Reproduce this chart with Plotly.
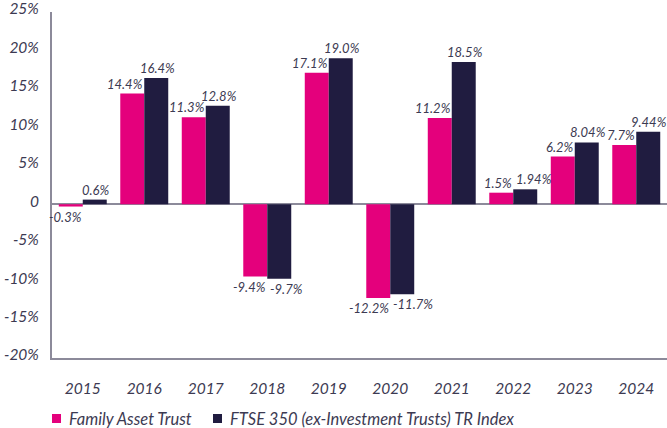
import plotly.graph_objects as go

years = ["2015", "2016", "2017", "2018", "2019", "2020", "2021", "2022", "2023", "2024"]
fat_values = [-0.3, 14.4, 11.3, -9.4, 17.1, -12.2, 11.2, 1.5, 6.2, 7.7]
fat_labels = ["-0.3%", "14.4%", "11.3%", "-9.4%", "17.1%", "-12.2%", "11.2%", "1.5%", "6.2%", "7.7%"]
ftse_values = [0.6, 16.4, 12.8, -9.7, 19.0, -11.7, 18.5, 1.94, 8.04, 9.44]
ftse_labels = ["0.6%", "16.4%", "12.8%", "-9.7%", "19.0%", "-11.7%", "18.5%", "1.94%", "8.04%", "9.44%"]
series_names = ["Family Asset Trust", "FTSE 350 (ex-Investment Trusts) TR Index"]
y_tickvals = [25, 20, 15, 10, 5, 0, -5, -10, -15, -20]
y_ticktext = ["25%", "20%", "15%", "10%", "5%", "0", "-5%", "-10%", "-15%", "-20%"]

PINK = "#E4007C"
NAVY = "#201C40"
TEXT = "#3C3A52"
AXIS = "#8C8A9A"
FONT = "Lato"

W, H = 667, 428
ML, MR, MT, MB = 52, 0, 12, 70
PW, PH = W - ML - MR, H - MT - MB


def px_x(px):
    return (px - ML) / PW


def px_y(py):
    return (H - MB - py) / PH


fig = go.Figure()
fig.add_trace(go.Bar(
    x=years, y=fat_values, name=series_names[0], showlegend=False,
    marker=dict(color=PINK, line=dict(width=0)),
))
fig.add_trace(go.Bar(
    x=years, y=ftse_values, name=series_names[1], showlegend=False,
    marker=dict(color=NAVY, line=dict(width=0)),
))

# category index i is the centre of each year group (pink bar right edge / navy bar left edge)
for i, (v, t) in enumerate(zip(fat_values, fat_labels)):
    fig.add_annotation(
        x=i, y=v, xref="x", yref="y", text="<i>" + t + "</i>", showarrow=False,
        xanchor="right", xshift=1, yanchor="bottom" if v >= 0 else "top",
        font=dict(family=FONT, size=13, color=TEXT),
    )
for i, (v, t) in enumerate(zip(ftse_values, ftse_labels)):
    close_to_pink = fat_values[i] >= 0 and abs(v - fat_values[i]) < 1
    if v >= 0 and not close_to_pink:
        fig.add_annotation(
            x=i, y=v, xref="x", yref="y", text="<i>" + t + "</i>", showarrow=False,
            xanchor="center", xshift=13, yanchor="bottom",
            font=dict(family=FONT, size=13, color=TEXT),
        )
    else:
        fig.add_annotation(
            x=i, y=v, xref="x", yref="y", text="<i>" + t + "</i>", showarrow=False,
            xanchor="left", xshift=1, yanchor="top" if v < 0 else "bottom",
            font=dict(family=FONT, size=13, color=TEXT),
        )

# legend drawn as squares + labels below the axis
legend_items = [(series_names[0], PINK, 52), (series_names[1], NAVY, 213)]
for name, col, x0 in legend_items:
    fig.add_shape(type="rect", xref="paper", yref="paper",
                  x0=px_x(x0), x1=px_x(x0 + 9), y0=px_y(423), y1=px_y(414),
                  fillcolor=col, line=dict(width=0))
    fig.add_annotation(x=px_x(x0 + 15), y=px_y(418.5), xref="paper", yref="paper",
                       text="<i>" + name + "</i>", showarrow=False,
                       xanchor="left", yanchor="middle",
                       font=dict(family=FONT, size=16.5, color=TEXT))

fig.update_layout(
    width=W, height=H,
    margin=dict(l=ML, r=MR, t=MT, b=MB),
    paper_bgcolor="white", plot_bgcolor="white",
    barmode="group", bargap=0.22, bargroupgap=0,
    font=dict(family=FONT, color=TEXT),
    showlegend=False,
    xaxis=dict(type="category", range=[-0.5, 9.5], showline=True, linecolor=AXIS, linewidth=2,
               showgrid=False, ticks="", ticklabelstandoff=15, automargin=False,
               ticklabeloverflow="allow",
               tickfont=dict(family=FONT, size=15.5, color=TEXT, style="italic")),
    yaxis=dict(range=[-20, 25], tickvals=y_tickvals, ticktext=y_ticktext,
               showline=True, linecolor=AXIS, linewidth=2, showgrid=False,
               zeroline=True, zerolinecolor=AXIS, zerolinewidth=2,
               ticks="", ticklabelstandoff=8, ticklabelshift=-3, automargin=False,
               ticklabeloverflow="allow",
               tickfont=dict(family=FONT, size=15.5, color=TEXT, style="italic")),
)

fig.write_html("out.html", config={"displayModeBar": False},
               post_script="document.body.style.margin='0';document.body.style.overflow='hidden';")
